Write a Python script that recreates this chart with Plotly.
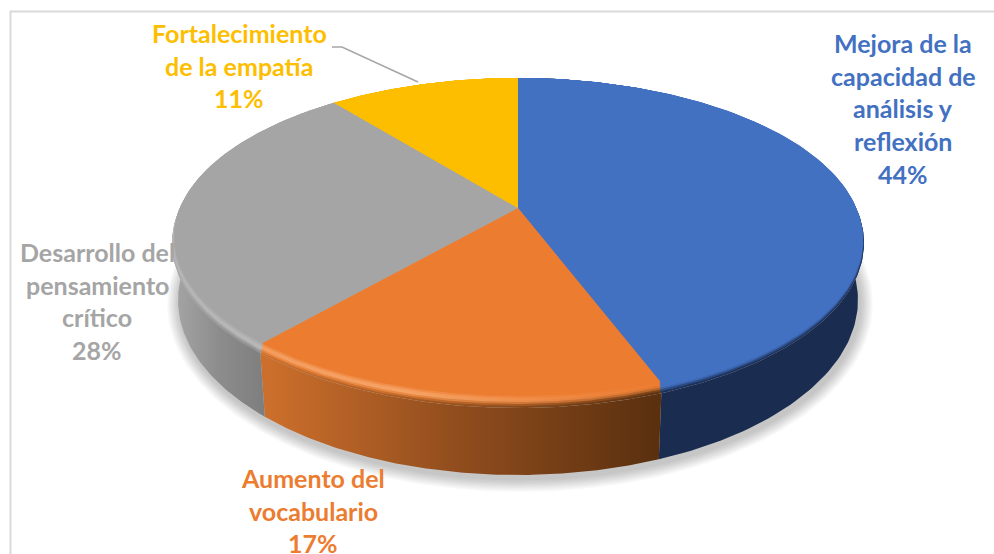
import numpy as np
import plotly.graph_objects as go

# ---- data ----
categories = [["Mejora de la", "capacidad de", "análisis y", "reflexión"],
              ["Aumento del", "vocabulario"],
              ["Desarrollo del", "pensamiento", "crítico"],
              ["Fortalecimiento", "de la empatía"]]
shares = [44.49, 16.51, 28.0, 11.0]
slice_colors = ["#4371C2", "#EC7C30", "#A5A5A5", "#FDBE00"]
label_centres = [903, 313, 97, 239]
label_first_y = [43, 478, 252, 33]
LINE_H = 32.7

# ---- view geometry (pixels) ----
W, H = 994, 554
CX, APEX_Y = 518, 208
TOP_Y, BOT_Y = 78, 408
RX = 346
k = (1 - (APEX_Y - TOP_Y) / (BOT_Y - APEX_Y)) / (1 + (APEX_Y - TOP_Y) / (BOT_Y - APEX_Y))
b = (APEX_Y - TOP_Y) * (1 + k)
a = RX * np.sqrt(1 - k * k)
CY = (TOP_Y + BOT_Y) / 2
RY = (BOT_Y - TOP_Y) / 2
BASE_CY, BASE_RX, BASE_RY = 300, 340, 175


def rim(theta):
    x, y = np.sin(theta), np.cos(theta)
    w = 1 + k * y
    return CX + a * x / w, APEX_Y - b * y / w


def base(theta):
    x, y = rim(theta)
    return CX + (x - CX) * BASE_RX / RX, BASE_CY + (y - CY) * BASE_RY / RY


def inner(theta, d):
    # bevel: the front edge of the face is lifted by d pixels
    x, y = rim(theta)
    return CX + (x - CX) * (1 - d / 2000), TOP_Y + (y - TOP_Y) * (1 - d / (BOT_Y - TOP_Y))


edges = 2 * np.pi * np.concatenate([[0], np.cumsum(shares)]) / np.sum(shares)
arcs = [np.linspace(edges[i], edges[i + 1], 160) for i in range(len(shares))]

fig = go.Figure()


def poly(xs, ys, color=None, grad=None):
    kw = dict(x=xs, y=ys, mode="lines", line=dict(width=0), fill="toself",
              hoverinfo="skip", showlegend=False)
    if grad:
        kind, x0, x1, stops = grad
        kw["fillgradient"] = dict(type=kind, start=x0, stop=x1, colorscale=stops)
    else:
        kw["fillcolor"] = color
    fig.add_trace(go.Scatter(**kw))


# soft shadow
t = np.linspace(0, 2 * np.pi, 240)
for i in range(10):
    e = 13 - i * 1.3
    poly(CX + 2 + (BASE_RX + e) * np.sin(t), BASE_CY + 4 + (BASE_RY + e) * np.cos(t),
         "rgba(0,0,0,0.022)")

# side walls
side_styles = [
    dict(color="#1A2C50"),
    dict(grad=("horizontal", 268, 657, [[0, "#CC6F2C"], [0.5, "#8F4C1D"], [1, "#5A300F"]])),
    dict(grad=("horizontal", 172, 268, [[0, "#A6A6A6"], [0.5, "#8C8C8C"], [1, "#7D7D7D"]])),
    dict(color="#A67F00"),
]
for arc, st in zip(arcs, side_styles):
    x1, y1 = rim(arc)
    x2, y2 = base(arc[::-1])
    poly(np.concatenate([x1, x2]), np.concatenate([y1, y2]), **st)


# top face, painted as bevel layers from the outside in
def OR(left, mid, right):
    return ("horizontal", 268, 657, [[0, left], [0.35, mid], [1, right]])


def GR(front):
    # the bevel only darkens toward the front of the disc
    return ("vertical", 150, 350, [[0, "#A8A8A8"], [0.45, "#B4B4B4"], [1, front]])


layers = [
    (0, ["#1D3159", OR("#C96E2C", "#A85A22", "#5F3210"), GR("#8E8E8E"), "#FDBE00"]),
    (2, ["#2A4A84", OR("#E07C33", "#C96E2C", "#7A4219"), GR("#A2A2A2"), "#FDBE00"]),
    (4, ["#3C66AE", OR("#EF9050", "#E88A45", "#B5652A"), GR("#B6B6B6"), "#FDBE00"]),
    (6, ["#4371C2", OR("#F59F62", "#F7A468", "#DE752E"), "#B8B8B8", "#FDBE00"]),
    (8, ["#4371C2", OR("#F29A58", "#F6A060", "#EC7C30"), "#B2B2B2", "#FDBE00"]),
    (10, ["#4371C2", OR("#EE8A45", "#F08E4A", "#EC7C30"), "#ABABAB", "#FDBE00"]),
    (12, ["#4371C2", "#EC7C30", "#A5A5A5", "#FDBE00"]),
]
for d, cols in layers:
    for arc, c in zip(arcs, cols):
        x, y = inner(arc, d)
        xs = np.concatenate([[CX], x, [CX]])
        ys = np.concatenate([[APEX_Y], y, [APEX_Y]])
        if isinstance(c, tuple):
            poly(xs, ys, grad=c)
        else:
            poly(xs, ys, c)

# leader line for the yellow slice
fig.add_trace(go.Scatter(x=[332, 342, 418], y=[47, 47, 82], mode="lines",
                         line=dict(color="#A6A6A6", width=1.5),
                         hoverinfo="skip", showlegend=False))

# labels, one line at a time so the line pitch can match
annotations = []
for lines, share, col, cx, y0 in zip(categories, shares, slice_colors, label_centres, label_first_y):
    for j, txt in enumerate(lines + [f"{round(share)}%"]):
        annotations.append(dict(x=cx, y=y0 + j * LINE_H, text=f"<b>{txt}</b>", showarrow=False,
                                xanchor="center", yanchor="middle", xref="x", yref="y",
                                font=dict(family="Lato", size=25, color=col)))

fig.update_layout(
    width=W, height=H, margin=dict(l=0, r=0, t=0, b=0),
    paper_bgcolor="white", plot_bgcolor="white", showlegend=False,
    xaxis=dict(range=[0, W], visible=False, fixedrange=True),
    yaxis=dict(range=[H, 0], visible=False, fixedrange=True),
    annotations=annotations,
    shapes=[dict(type="rect", xref="x", yref="y", x0=10.5, y0=11.5, x1=W + 20, y1=H + 20,
                 line=dict(color="#D9D9D9", width=2), layer="below")],
)
fig.write_html("out.html", config=dict(displayModeBar=False),
               post_script="document.body.style.margin='0';document.body.style.overflow='hidden';")
